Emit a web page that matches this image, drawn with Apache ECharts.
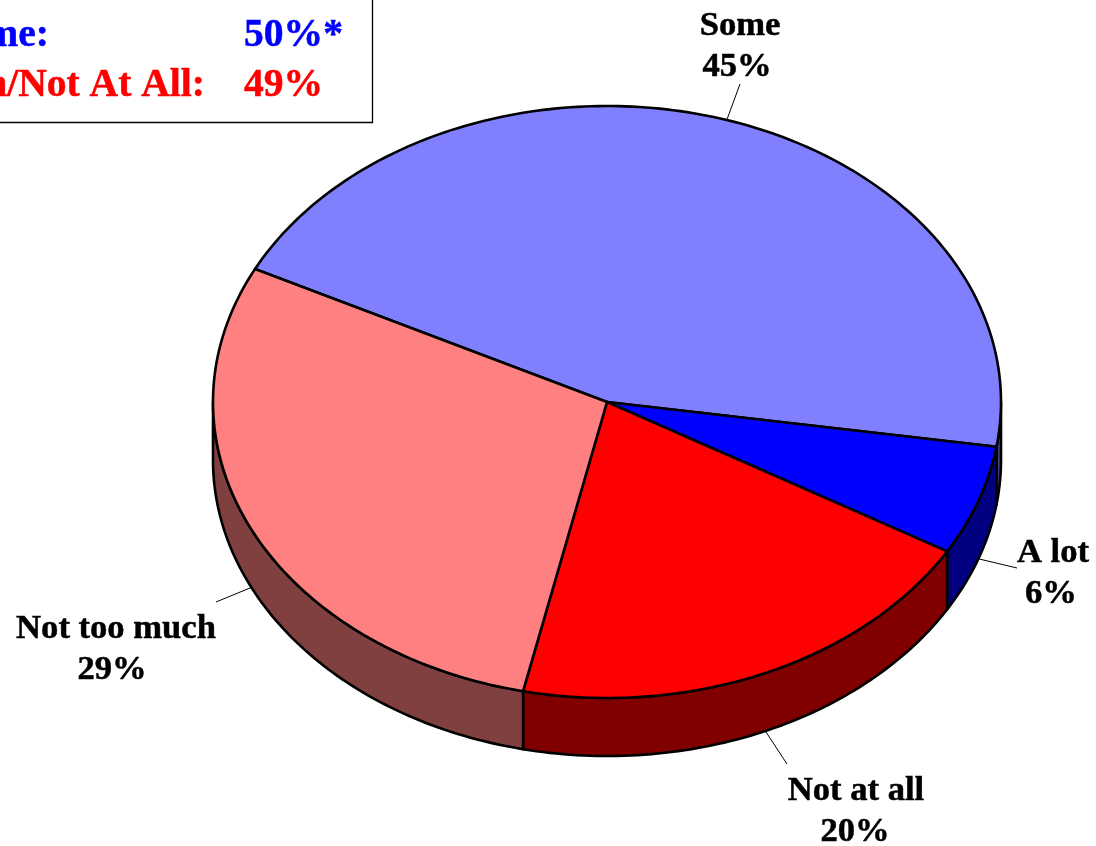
<!DOCTYPE html>
<html>
<head>
<meta charset="utf-8">
<style>html,body{margin:0;padding:0;background:#fff;overflow:hidden}#c{width:1096px;height:846px}</style>
<script src="https://cdn.jsdelivr.net/npm/echarts@6/dist/echarts.min.js"></script>
</head>
<body>
<div id="c"></div>
<script>
// Data
const categories = ['Some', 'A lot', 'Not at all', 'Not too much'];
const percents = [45, 6, 20, 29];
const summaryLabels = ['A Lot/Some:', 'Not Too Much/Not At All:'];
const summaryValues = ['50%*', '49%'];

// Styles
const topColors = ['#8080ff', '#0000ff', '#ff0000', '#ff8080'];
const wallColors = ['#404080', '#000080', '#800000', '#804040'];
const summaryColors = ['#0000ff', '#ff0000'];

// Layout
const cx = 607, cy = 402, rx = 394, ry = 296, depth = 58, startDeg = -63.3;
const font = 'bold 34.6px "Liberation Serif"';
const labelLayout = [
  {lx: 740, ly: 84, tx: 740, ty: 26, vx: 737},
  {lx: 1017, ly: 568, tx: 1053, ty: 553, vx: 1051},
  {lx: 787, ly: 764, tx: 856, ty: 791, vx: 855},
  {lx: 216, ly: 602, tx: 116, ty: 629, vx: 112}
];

const total = percents.reduce((a, b) => a + b, 0);
const rows = categories.map((c, i) => [c, percents[i]]);
const toDeg = v => v / total * 360;
function span(i) {
  let s = startDeg;
  for (let k = 0; k < i; k++) s += toDeg(percents[k]);
  return [s, s + toDeg(percents[i])];
}
function pt(deg, dz) {
  const r = deg * Math.PI / 180;
  return [cx + rx * Math.sin(r), cy - ry * Math.cos(r) + (dz || 0)];
}
function arc(a, b, dz) {
  const n = Math.max(2, Math.ceil(Math.abs(b - a))), out = [];
  for (let i = 0; i <= n; i++) out.push(pt(a + (b - a) * i / n, dz));
  return out;
}
const edgeStyle = {stroke: '#000', lineWidth: 2.6, lineJoin: 'round'};

function renderWall(params) {
  const [a, b] = span(params.dataIndex);
  const children = [];
  // the side wall shows only on the front half of the ellipse (90..270 deg)
  [[a, b], [a + 360, b + 360], [a - 360, b - 360]].forEach(([p, q]) => {
    const lo = Math.max(p, 90), hi = Math.min(q, 270);
    if (hi > lo) {
      children.push({type: 'polygon', shape: {points: arc(lo, hi, 0).concat(arc(hi, lo, depth))},
        style: Object.assign({fill: wallColors[params.dataIndex]}, edgeStyle)});
    }
  });
  return {type: 'group', children};
}
function renderTop(params) {
  const [a, b] = span(params.dataIndex);
  return {type: 'polygon', shape: {points: [[cx, cy]].concat(arc(a, b, 0))},
    style: Object.assign({fill: topColors[params.dataIndex]}, edgeStyle)};
}
function renderLabel(params, api) {
  const i = params.dataIndex, [a, b] = span(i), mid = (a + b) / 2;
  const m = ((mid % 360) + 360) % 360;
  const L = labelLayout[i];
  const from = pt(mid, m > 90 && m < 270 ? depth : 0);
  const textStyle = {font, fill: '#000', stroke: '#000', lineWidth: 0.5,
    textAlign: 'center', textVerticalAlign: 'middle'};
  return {type: 'group', children: [
    {type: 'line', shape: {x1: from[0], y1: from[1], x2: L.lx, y2: L.ly},
      style: {stroke: '#000', lineWidth: 1}},
    {type: 'text', x: L.tx, y: L.ty, style: Object.assign({text: api.value(0)}, textStyle)},
    {type: 'text', x: L.vx, y: L.ty + 41.5, style: Object.assign({text: api.value(1) + '%'}, textStyle)}
  ]};
}

const legendFont = 'bold 39.6px "Liberation Serif"';
const graphicEls = [
  {type: 'rect', shape: {x: -20, y: -20, width: 392.5, height: 142.5}, z: 10,
    style: {fill: '#fff', stroke: '#000', lineWidth: 1.3}}
];
summaryLabels.forEach((t, i) => {
  const y = 36 + i * 50;
  const common = {font: legendFont, fill: summaryColors[i], stroke: summaryColors[i], lineWidth: 0.5,
    textVerticalAlign: 'middle'};
  graphicEls.push({type: 'text', x: 205, y: y, z: 11, style: Object.assign({text: t, textAlign: 'right'}, common)});
  graphicEls.push({type: 'text', x: 244, y: y, z: 11, style: Object.assign({text: summaryValues[i], textAlign: 'left'}, common)});
});
// the first summary label ends further left than the second one
graphicEls[1].x = 49;

const base = {type: 'custom', coordinateSystem: 'none', data: rows, silent: true, animation: false,
  dimensions: ['name', 'percent'], clip: false};
const chart = echarts.init(document.getElementById('c'), null, {renderer: 'canvas'});
chart.setOption({
  backgroundColor: '#fff',
  animation: false,
  tooltip: {show: false},
  graphic: {elements: graphicEls},
  series: [
    Object.assign({}, base, {name: 'walls', z: 1, renderItem: renderWall}),
    Object.assign({}, base, {name: 'tops', z: 2, renderItem: renderTop}),
    Object.assign({}, base, {name: 'labels', z: 3, renderItem: renderLabel})
  ]
});
</script>
</body>
</html>
